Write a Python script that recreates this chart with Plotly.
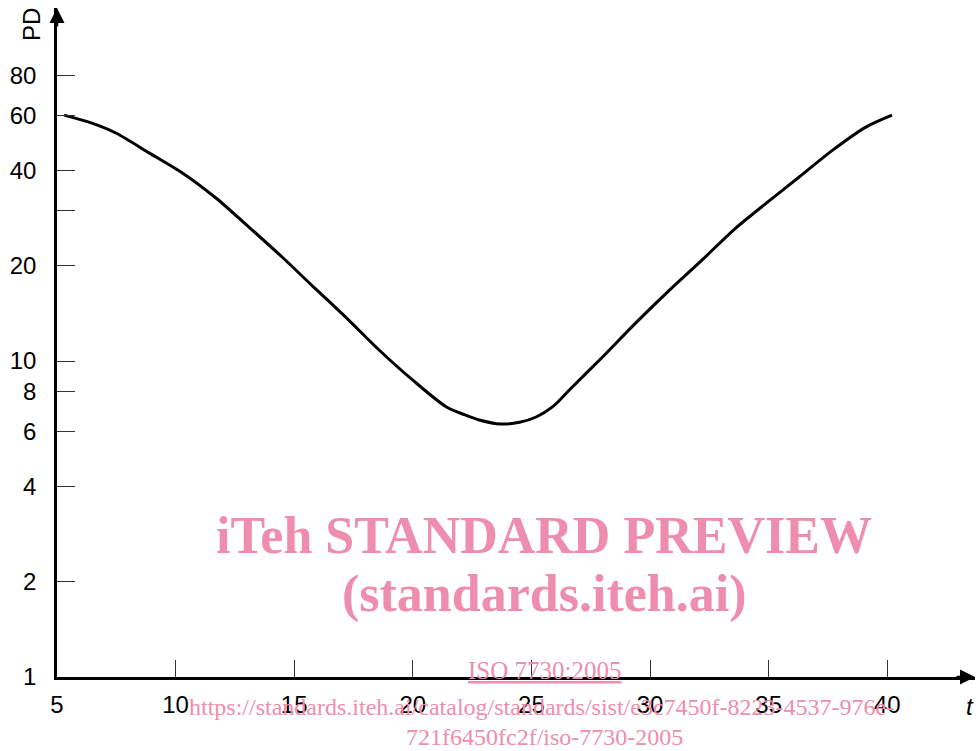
import plotly.graph_objects as go
import math

# Data (t vs PD, log scale)
t_vals = [5.3, 6.5, 7.5, 8.9, 10.3, 11.7, 13.1, 14.5, 15.8, 17.2, 18.6, 20.0, 21.4,
          22.2, 22.8, 23.7, 24.5, 25.2, 25.9, 26.6, 28.0, 29.4, 30.8, 32.2, 33.6, 34.9,
          36.3, 37.7, 39.1, 40.2]
pd_vals = [60.0, 56.5, 52.6, 45.5, 39.3, 32.8, 26.5, 21.3, 17.2, 13.7, 10.8, 8.7, 7.17,
           6.75, 6.51, 6.32, 6.4, 6.65, 7.17, 8.1, 10.3, 13.2, 16.7, 20.9, 26.3, 31.6,
           38.3, 46.5, 55.0, 60.0]

x_tickvals = [5, 10, 15, 20, 25, 30, 35, 40]
x_ticktext = ["5", "10", "15", "20", "25", "30", "35", "40"]
y_tickvals = [1, 2, 4, 6, 8, 10, 20, 30, 40, 60, 80]
y_ticktext = ["1", "2", "4", "6", "8", "10", "20", "", "40", "60", "80"]

x_range = [5, 43.7]
y_range_log = [0, math.log10(131)]

pink = "#EF8DAC"

L, T, W, H = 57, 8, 918, 669  # plot area in pixels


def px(xp):
    return (xp - L) / W


def py(yp):
    return (T + H - yp) / H


fig = go.Figure()
fig.add_trace(go.Scatter(
    x=t_vals, y=pd_vals, mode="lines",
    line=dict(color="black", width=3, shape="spline", smoothing=0.8),
    hoverinfo="skip", showlegend=False,
))

fig.update_layout(
    width=979, height=751,
    margin=dict(l=L, r=979 - L - W, t=T, b=751 - T - H, autoexpand=False),
    paper_bgcolor="white", plot_bgcolor="white",
    font=dict(family="Liberation Sans, Arial, sans-serif", size=24, color="black"),
    xaxis=dict(
        range=x_range, tickvals=x_tickvals, ticktext=x_ticktext, automargin=False,
        ticks="inside", ticklen=17, tickwidth=1, tickcolor="#333333",
        showgrid=False, zeroline=False, showline=True, linecolor="black", linewidth=2.5,
        tickfont=dict(size=24), ticklabelstandoff=4,
    ),
    yaxis=dict(
        type="log", range=y_range_log, tickvals=y_tickvals, ticktext=y_ticktext,
        automargin=False,
        ticks="inside", ticklen=18, tickwidth=1, tickcolor="#333333",
        showgrid=False, zeroline=False, showline=True, linecolor="black", linewidth=2.5,
        tickfont=dict(size=24), ticklabelstandoff=13,
    ),
)

# Axis arrows
fig.add_annotation(x=1, y=0, xref="paper", yref="paper", ax=-20, ay=0,
                   showarrow=True, arrowhead=2, arrowsize=1.2, arrowwidth=2.5,
                   arrowcolor="black", text="")
fig.add_annotation(x=0, y=1, xref="paper", yref="paper", ax=0, ay=20,
                   showarrow=True, arrowhead=2, arrowsize=1.2, arrowwidth=2.5,
                   arrowcolor="black", text="")

# Axis titles
fig.add_annotation(x=px(31), y=py(25), xref="paper", yref="paper", text="PD",
                   showarrow=False, textangle=-90, xanchor="center", yanchor="middle",
                   font=dict(size=24))
fig.add_annotation(text="<i>t</i>", x=px(970), y=py(706), xref="paper", yref="paper",
                   showarrow=False, xanchor="center", yanchor="middle", font=dict(size=24))

# Watermark
serif = "Liberation Serif, Times New Roman, serif"
wm = [
    ("<b>iTeh STANDARD PREVIEW</b>", 544, 535, 52),
    ("<b>(standards.iteh.ai)</b>", 544, 594, 52),
    ("<u>ISO 7730:2005</u>", 544, 670, 25),
    ("https://standards.iteh.ai/catalog/standards/sist/e3c7450f-8223-4537-976e-", 541, 707, 24),
    ("721f6450fc2f/iso-7730-2005", 544, 737, 24),
]
for text, xx, yy, sz in wm:
    fig.add_annotation(text=text, x=px(xx), y=py(yy), xref="paper", yref="paper",
                       showarrow=False, xanchor="center", yanchor="middle",
                       font=dict(family=serif, size=sz, color=pink))

fig.write_html("out.html", config={"displayModeBar": False},
               post_script="document.body.style.margin='0';")
